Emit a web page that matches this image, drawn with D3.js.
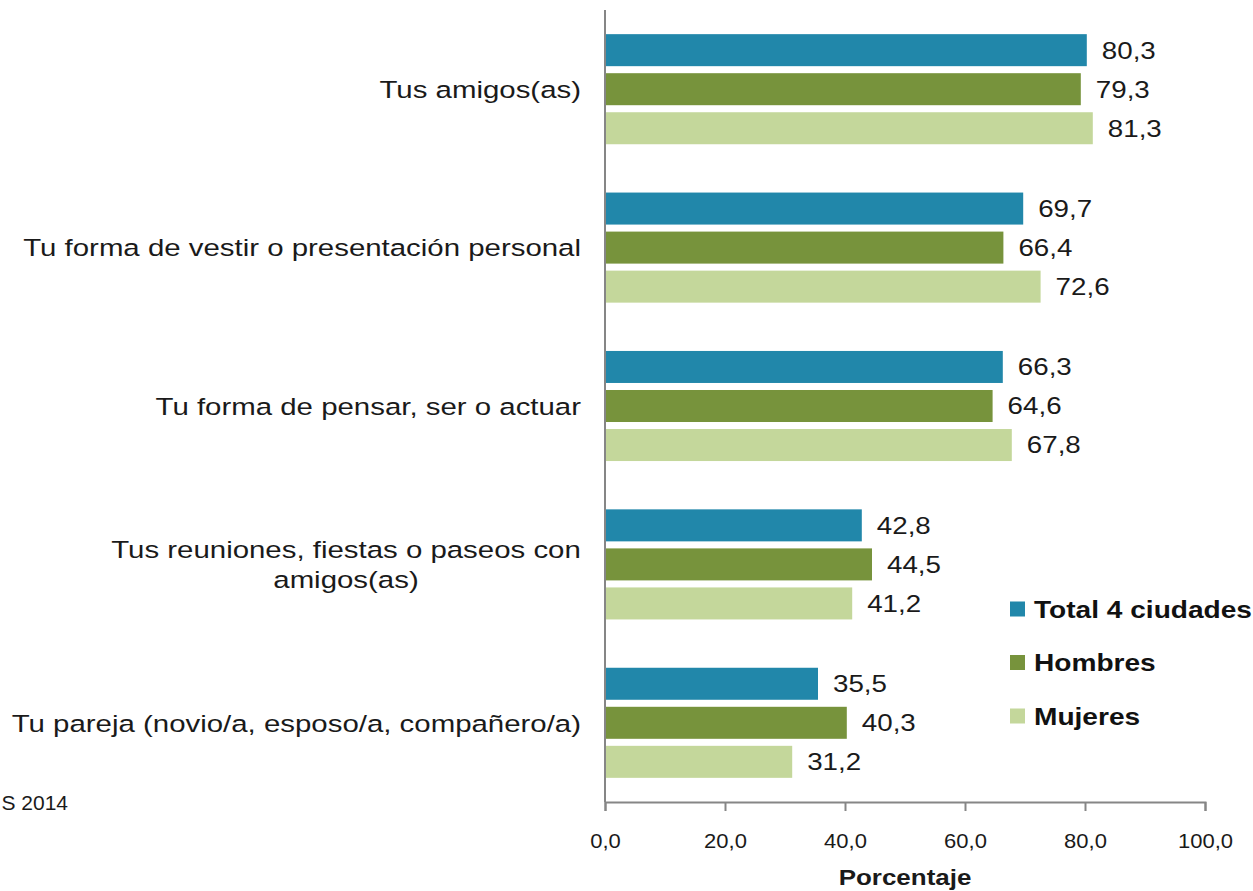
<!DOCTYPE html>
<html>
<head>
<meta charset="utf-8">
<script src="https://cdn.jsdelivr.net/npm/d3@7"></script>
<style>
  body { margin: 0; background: #fff; }
  svg { font-family: "Liberation Sans", Arial, sans-serif; }
</style>
</head>
<body>
<div id="chart"></div>
<script>
const categories = [
  "Tus amigos(as)",
  "Tu forma de vestir o presentación personal",
  "Tu forma de pensar, ser o actuar",
  "Tus reuniones, fiestas o paseos con|amigos(as)",
  "Tu pareja (novio/a, esposo/a, compañero/a)"
];
const seriesNames = ["Total 4 ciudades", "Hombres", "Mujeres"];
const totalValues = [80.3, 69.7, 66.3, 42.8, 35.5];
const hombresValues = [79.3, 66.4, 64.6, 44.5, 40.3];
const mujeresValues = [81.3, 72.6, 67.8, 41.2, 31.2];
const tickValues = [0, 20, 40, 60, 80, 100];
const colors = ["#2187aa", "#77933c", "#c4d79b"];

const width = 1253, height = 891;
const x0 = 605, x1 = 1205, yTop = 10, yBottom = 802;

const fmt = v => d3.format(".1f")(v).replace(".", ",");

// the original text is drawn a bit wider than plain Arial
function stretch(sel, f) {
  sel.each(function() {
    const w = this.getComputedTextLength();
    d3.select(this).attr("textLength", w * f).attr("lengthAdjust", "spacingAndGlyphs");
  });
}

const svg = d3.select("#chart").append("svg")
  .attr("width", width)
  .attr("height", height);

const x = d3.scaleLinear().domain([0, 100]).range([x0, x1]);
const y = d3.scaleBand().domain(categories).range([yTop, yBottom])
  .paddingInner(0.305).paddingOuter(0.1525);
const ySub = d3.scaleBand().domain(seriesNames).range([0, y.bandwidth()])
  .paddingInner(0.18).paddingOuter(0);

const allSeries = [totalValues, hombresValues, mujeresValues];

// bars + value labels
const groups = svg.selectAll("g.cat")
  .data(categories)
  .enter().append("g")
  .attr("class", "cat")
  .attr("transform", d => `translate(0,${y(d)})`);

groups.each(function(cat, i) {
  const g = d3.select(this);
  const rows = seriesNames.map((s, j) => ({ s, v: allSeries[j][i], c: colors[j] }));
  g.selectAll("rect").data(rows).enter().append("rect")
    .attr("x", x(0))
    .attr("y", d => ySub(d.s))
    .attr("width", d => x(d.v) - x(0))
    .attr("height", ySub.bandwidth())
    .attr("fill", d => d.c);
  g.selectAll("text.val").data(rows).enter().append("text")
    .attr("class", "val")
    .attr("x", d => x(d.v) + 15)
    .attr("y", d => ySub(d.s) + ySub.bandwidth() / 2)
    .attr("dy", "0.36em")
    .attr("font-size", 23.5)
    .attr("fill", "#1a1a1a")
    .text(d => fmt(d.v));
});
stretch(svg.selectAll("text.val"), 1.18);

// category labels
categories.forEach(cat => {
  const lines = cat.split("|");
  const cy = y(cat) + y.bandwidth() / 2;
  if (lines.length === 1) {
    svg.append("text")
      .attr("class", "cat-label")
      .attr("x", 581).attr("y", cy).attr("dy", "0.36em")
      .attr("text-anchor", "end")
      .attr("font-size", 24.5)
      .attr("fill", "#1a1a1a")
      .text(cat);
  } else {
    lines.forEach((ln, k) => {
      svg.append("text")
        .attr("class", "cat-label")
        .attr("x", 346)
        .attr("y", cy + (k - 0.5) * 30).attr("dy", "0.36em")
        .attr("text-anchor", "middle")
        .attr("font-size", 24.5)
        .attr("fill", "#1a1a1a")
        .text(ln);
    });
  }
});
stretch(svg.selectAll("text.cat-label"), 1.2);

// axes
const xAxis = svg.append("g")
  .attr("transform", `translate(0,${yBottom})`)
  .call(d3.axisBottom(x).tickValues(tickValues).tickSize(9).tickFormat(fmt));
xAxis.select(".domain").attr("stroke", "#868686").attr("stroke-width", 2);
xAxis.selectAll(".tick line").attr("stroke", "#868686").attr("stroke-width", 2);
xAxis.selectAll(".tick text")
  .attr("y", 46)
  .attr("dy", 0)
  .attr("font-size", 20)
  .attr("fill", "#1a1a1a");
stretch(xAxis.selectAll(".tick text"), 1.1);

svg.append("line")
  .attr("x1", x0).attr("x2", x0)
  .attr("y1", yTop).attr("y2", yBottom)
  .attr("stroke", "#868686").attr("stroke-width", 2);

svg.append("text")
  .attr("class", "axis-title")
  .attr("x", (x0 + x1) / 2).attr("y", 885)
  .attr("text-anchor", "middle")
  .attr("font-size", 22)
  .attr("font-weight", "bold")
  .attr("fill", "#1a1a1a")
  .text("Porcentaje");
stretch(svg.selectAll("text.axis-title"), 1.18);

// legend
const legend = svg.append("g").attr("transform", "translate(1010,609)");
seriesNames.forEach((s, j) => {
  const lg = legend.append("g").attr("transform", `translate(0,${j * 53.5})`);
  lg.append("rect").attr("x", 0).attr("y", -7.5).attr("width", 15).attr("height", 15).attr("fill", colors[j]);
  lg.append("text").attr("class", "leg").attr("x", 24).attr("y", 0).attr("dy", "0.36em")
    .attr("font-size", 24).attr("font-weight", "bold").attr("fill", "#111")
    .text(s);
});
stretch(legend.selectAll("text.leg"), 1.17);

// source note, clipped at the left edge in the original
svg.append("text")
  .attr("x", 68).attr("y", 810)
  .attr("text-anchor", "end")
  .attr("font-size", 21)
  .attr("fill", "#1a1a1a")
  .text("S 2014");
</script>
</body>
</html>
